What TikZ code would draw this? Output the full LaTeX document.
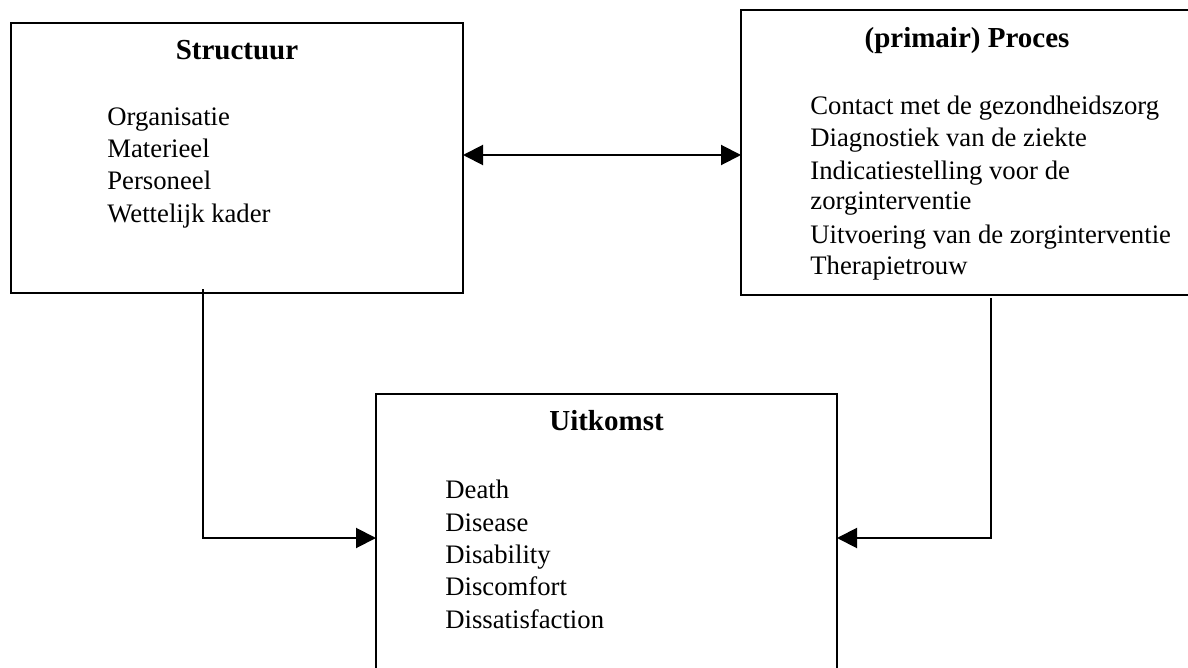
\documentclass[tikz,border=0pt]{standalone}
\usepackage{fontspec}
\setmainfont{Liberation Serif}
\usetikzlibrary{arrows.meta}
\begin{document}
\begin{tikzpicture}[x=0.5pt,y=-0.5pt,
  box/.style={draw,line width=1pt,rectangle,inner sep=0pt},
  ttl/.style={font=\fontsize{14.5}{16}\selectfont\bfseries,anchor=base},
  itm/.style={font=\fontsize{13.35}{16}\selectfont,anchor=base west,inner sep=0pt},
  conn/.style={line width=1pt,-{Triangle[length=10pt,width=10pt]}},
  dconn/.style={line width=1pt,{Triangle[length=10pt,width=10pt]}-{Triangle[length=10pt,width=10pt]}}]
\useasboundingbox (0,0) rectangle (1188,668);
\clip (0,0) rectangle (1188,668);
\fill[white] (0,0) rectangle (1188,668);
% boxes
\node[box,minimum width=226pt,minimum height=135pt] (s) at (237,158) {};
\node[box,minimum width=244.5pt,minimum height=142.5pt] (p) at (985.5,152.5) {};
\node[box,minimum width=230.5pt,minimum height=153.5pt] (u) at (606.5,547) {};
% titles
\node[ttl] (st) at (237,60) {Structuur};
\node[ttl] (pt) at (967,48) {(primair) Proces};
\node[ttl] (ut) at (606.5,430) {Uitkomst};
% structuur items
\node[itm] (s1) at (107,126) {Organisatie};
\node[itm] (s2) at (107,158) {Materieel};
\node[itm] (s3) at (107,190) {Personeel};
\node[itm] (s4) at (107,223) {Wettelijk kader};
% proces items
\node[itm] (p1) at (810,115) {Contact met de gezondheidszorg};
\node[itm] (p2) at (810,147) {Diagnostiek van de ziekte};
\node[itm] (p3) at (810,180) {Indicatiestelling voor de};
\node[itm] (p4) at (810,210) {zorginterventie};
\node[itm] (p5) at (810,243) {Uitvoering van de zorginterventie};
\node[itm] (p6) at (810,275) {Therapietrouw};
% uitkomst items
\node[itm] (u1) at (445,498) {Death};
\node[itm] (u2) at (445,531) {Disease};
\node[itm] (u3) at (445,563) {Disability};
\node[itm] (u4) at (445,595) {Discomfort};
\node[itm] (u5) at (445,628) {Dissatisfaction};
% connectors
\coordinate (sp) at (463,155);
\coordinate (ps) at (741,155);
\draw[dconn] (sp) -- (ps);
\coordinate (sl) at (203,289);
\coordinate (ul) at (376,538);
\draw[conn] (sl) |- (ul);
\coordinate (pr) at (991,298);
\coordinate (ur) at (837,538);
\draw[conn] (pr) |- (ur);
\end{tikzpicture}
\end{document}
